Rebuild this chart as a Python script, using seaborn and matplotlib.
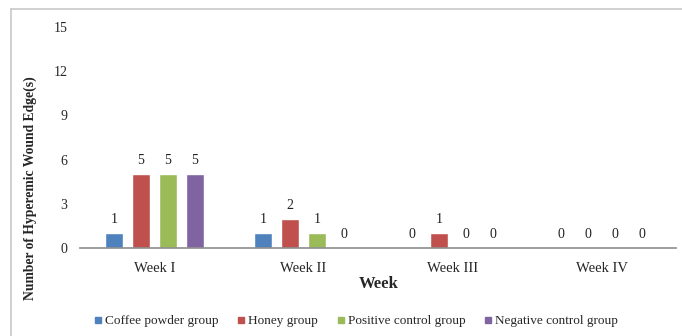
import matplotlib
matplotlib.use("Agg")
import matplotlib.pyplot as plt
import seaborn as sns
import pandas as pd
from matplotlib.lines import Line2D

weeks = ["Week I", "Week II", "Week III", "Week IV"]
groups = ["Coffee powder group", "Honey group", "Positive control group", "Negative control group"]
coffee = [1, 1, 0, 0]
honey = [5, 2, 1, 0]
positive = [5, 1, 0, 0]
negative = [5, 0, 0, 0]
colors = ["#4F81BD", "#C0504D", "#9BBB59", "#8064A2"]
yticks = [0, 3, 6, 9, 12, 15]

series = [coffee, honey, positive, negative]
df = pd.DataFrame({
    "Week": [w for _ in groups for w in weeks],
    "Group": [g for g in groups for _ in weeks],
    "Count": [v for s in series for v in s],
})

sns.set_theme(style="white")
plt.rcParams["font.family"] = ["Liberation Serif", "DejaVu Serif"]

fig = plt.figure(figsize=(6.82, 3.36), dpi=100)
ax = fig.add_axes([80 / 682, 1 - 248 / 336, 596 / 682, 221 / 336])

sns.barplot(data=df, x="Week", y="Count", hue="Group", order=weeks,
            hue_order=groups, palette=colors, width=0.725, gap=0.3,
            saturation=1, errorbar=None, ax=ax, legend=False)

for cont in ax.containers:
    ax.bar_label(cont, fmt="%d", padding=5, fontsize=10, color="#222222")

ax.set_ylim(0, 15)
ax.set_yticks(yticks)
ax.set_yticklabels([str(t) for t in yticks], fontsize=10)
ax.tick_params(axis="y", length=0, pad=9)
ax.tick_params(axis="x", length=0, pad=10, labelsize=10.5)
for side in ["top", "right", "left"]:
    ax.spines[side].set_visible(False)
ax.spines["bottom"].set_color("#8c8c8c")
ax.spines["bottom"].set_linewidth(1.2)
ax.set_xlabel("")
ax.set_ylabel("")

fig.text(379 / 682, 1 - 284 / 336, "Week", ha="center", va="center",
         fontsize=12, fontweight="bold")
fig.text(30 / 682, 1 - 188 / 336, "Number of Hyperemic Wound Edge(s)",
         rotation=90, ha="center", va="center", fontsize=9.8, fontweight="bold")

handles = [Line2D([0], [0], marker="s", linestyle="", markersize=5,
                  markerfacecolor=c, markeredgecolor=c) for c in colors]
fig.legend(handles, groups, loc="center", bbox_to_anchor=(356 / 682, 1 - 321 / 336),
           ncol=4, frameon=False, fontsize=9.5, handlelength=0.6,
           handletextpad=0.25, columnspacing=1.4)

# light frame on the left and top edges
fig.add_artist(Line2D([11 / 682, 11 / 682], [0, 1 - 9 / 336],
                      transform=fig.transFigure, color="#c8c8c8", lw=1.2))
fig.add_artist(Line2D([11 / 682, 1], [1 - 9 / 336, 1 - 9 / 336],
                      transform=fig.transFigure, color="#c8c8c8", lw=1.2))

fig.savefig("out.png", dpi=100)
